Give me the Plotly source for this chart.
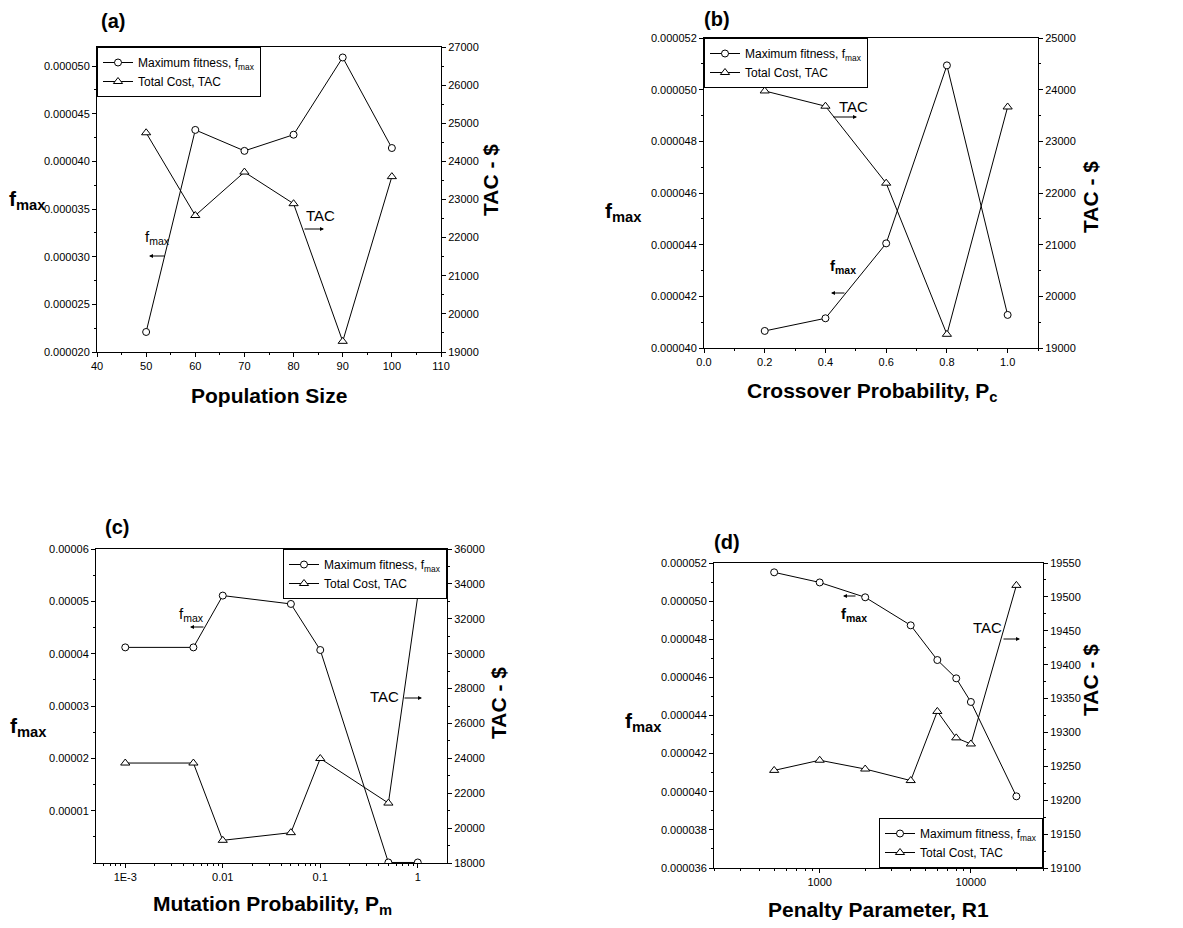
import plotly.graph_objects as go

W, H = 1183, 928
OFF = 8  # page body margin
FW, FH = W - 2 * OFF, H - 2 * OFF

# ---------------- data ----------------
pop_size = [50, 60, 70, 80, 90, 100]
pop_fmax = [0.0000221, 0.0000433, 0.0000411, 0.0000428, 0.0000509, 0.0000414]
pop_tac = [24750, 22580, 23720, 22890, 19280, 23600]

pc = [0.2, 0.4, 0.6, 0.8, 1.0]
pc_fmax = [0.00004066, 0.00004115, 0.00004405, 0.00005094, 0.00004128]
pc_tac = [23975, 23680, 22190, 19265, 23665]

pm = [0.001, 0.005, 0.01, 0.05, 0.1, 0.5, 1.0]
pm_fmax = [0.0000412, 0.0000412, 0.0000511, 0.0000495, 0.0000407, 0.0000001, 0.0000001]
pm_tac = [23730, 23730, 19300, 19740, 23990, 21435, 33300]

r1 = [500, 1000, 2000, 4000, 6000, 8000, 10000, 20000]
r1_fmax = [0.00005151, 0.00005098, 0.0000502, 0.00004873, 0.00004691, 0.00004595, 0.00004471, 0.00003976]
r1_tac = [19244, 19259, 19246, 19229, 19331, 19292, 19283, 19517]

FONT = "Arial, Liberation Sans, sans-serif"

def px(x):
    return (x - OFF) / FW

def py(y):
    return 1 - (y - OFF) / FH

# panel plot boxes in screen pixels: (left, top, right, bottom)
boxes = [(97, 47, 441, 352), (704, 38, 1038, 348), (96, 549, 447, 863), (714, 563, 1043, 868)]

fig = go.Figure()

circle = dict(symbol="circle", size=7, color="white", line=dict(color="black", width=1))
tri = dict(symbol="triangle-up", size=8, color="white", line=dict(color="black", width=1))

data = [(pop_size, pop_fmax, pop_tac), (pc, pc_fmax, pc_tac), (pm, pm_fmax, pm_tac), (r1, r1_fmax, r1_tac)]
legend_names = ["legend", "legend2", "legend3", "legend4"]
for i, (xv, fv, tv) in enumerate(data):
    n = i + 1
    xa = "x" if n == 1 else f"x{n}"
    yl = 2 * n - 1
    yr = 2 * n
    yla = "y" if yl == 1 else f"y{yl}"
    yra = f"y{yr}"
    fig.add_trace(go.Scatter(x=xv, y=fv, mode="lines+markers", name="Maximum fitness, f<sub>max</sub>",
                             line=dict(color="black", width=1), marker=circle,
                             xaxis=xa, yaxis=yla, legend=legend_names[i]))
    fig.add_trace(go.Scatter(x=xv, y=tv, mode="lines+markers", name="Total Cost, TAC",
                             line=dict(color="black", width=1), marker=tri,
                             xaxis=xa, yaxis=yra, legend=legend_names[i]))

tickfont = dict(family=FONT, size=11, color="black")

def axis_common():
    return dict(showline=True, linecolor="black", linewidth=1, ticks="outside", ticklen=4,
                tickcolor="black", tickwidth=1, showgrid=False, zeroline=False, tickfont=tickfont,
                automargin=False)

x_specs = [
    dict(type="linear", range=[40, 110], dtick=10, tick0=40, minor=dict(dtick=5, ticks="outside", ticklen=2, tickcolor="black")),
    dict(type="linear", range=[0, 1.1], dtick=0.2, tick0=0, tickformat=".1f", minor=dict(dtick=0.1, ticks="outside", ticklen=2, tickcolor="black")),
    dict(type="log", range=[-3.3, 0.3], tickvals=[0.001, 0.01, 0.1, 1], ticktext=["1E-3", "0.01", "0.1", "1"],
         minor=dict(ticks="outside", ticklen=2, tickcolor="black", tickvals=[k * 10 ** e for e in [-4, -3, -2, -1, 0] for k in range(2, 10)])),
    dict(type="log", range=[2.301, 4.477], tickvals=[1000, 10000], ticktext=["1000", "10000"],
         minor=dict(ticks="outside", ticklen=2, tickcolor="black", tickvals=[k * 10 ** e for e in [2, 3, 4] for k in range(2, 10)])),
]
yl_specs = [
    dict(range=[0.00002, 0.000052], dtick=0.000005, tick0=0.00002, tickformat=".6f", minor=dict(dtick=0.0000025, ticks="outside", ticklen=2, tickcolor="black")),
    dict(range=[0.00004, 0.000052], dtick=0.000002, tick0=0.00004, tickformat=".6f", minor=dict(dtick=0.000001, ticks="outside", ticklen=2, tickcolor="black")),
    dict(range=[0, 0.00006], tickvals=[0.00001, 0.00002, 0.00003, 0.00004, 0.00005, 0.00006], tickformat=".5f", minor=dict(dtick=0.000005, ticks="outside", ticklen=2, tickcolor="black")),
    dict(range=[0.000036, 0.000052], dtick=0.000002, tick0=0.000036, tickformat=".6f", minor=dict(dtick=0.000001, ticks="outside", ticklen=2, tickcolor="black")),
]
yr_specs = [
    dict(range=[19000, 27000], dtick=1000, tickformat="d", minor=dict(dtick=500, ticks="outside", ticklen=2, tickcolor="black")),
    dict(range=[19000, 25000], dtick=1000, tickformat="d", minor=dict(dtick=500, ticks="outside", ticklen=2, tickcolor="black")),
    dict(range=[18000, 36000], dtick=2000, tickformat="d", minor=dict(dtick=1000, ticks="outside", ticklen=2, tickcolor="black")),
    dict(range=[19100, 19550], dtick=50, tickformat="d", minor=dict(dtick=25, ticks="outside", ticklen=2, tickcolor="black")),
]

layout = {}
for i, (l, t, r, b) in enumerate(boxes):
    n = i + 1
    xk = "xaxis" if n == 1 else f"xaxis{n}"
    ylk = "yaxis" if 2 * n - 1 == 1 else f"yaxis{2 * n - 1}"
    yrk = f"yaxis{2 * n}"
    yla = "y" if n == 1 else f"y{2 * n - 1}"
    xa = "x" if n == 1 else f"x{n}"
    xd = axis_common()
    xd.update(x_specs[i])
    xd.update(domain=[px(l), px(r)], anchor=yla, mirror=True)
    layout[xk] = xd
    yd = axis_common()
    yd.update(yl_specs[i])
    yd.update(domain=[py(b), py(t)], anchor=xa, side="left")
    layout[ylk] = yd
    yr = axis_common()
    yr.update(yr_specs[i])
    yr.update(overlaying=yla, anchor=xa, side="right")
    layout[yrk] = yr

legfont = dict(family=FONT, size=12, color="black")
leg_common = dict(bgcolor="white", bordercolor="black", borderwidth=1, font=legfont,
                  tracegroupgap=0, itemwidth=30)
layout["legend"] = dict(leg_common, x=px(97), y=py(47), xanchor="left", yanchor="top")
layout["legend2"] = dict(leg_common, x=px(704), y=py(38), xanchor="left", yanchor="top")
layout["legend3"] = dict(leg_common, x=px(447), y=py(549), xanchor="right", yanchor="top")
layout["legend4"] = dict(leg_common, x=px(1043), y=py(868), xanchor="right", yanchor="bottom")

ann = []

def text(x, y, s, size, bold=False, angle=0):
    ann.append(dict(x=px(x), y=py(y), xref="paper", yref="paper", text=(f"<b>{s}</b>" if bold else s),
                    showarrow=False, textangle=angle, font=dict(family=FONT, size=size, color="black"),
                    xanchor="center", yanchor="middle"))

def arrow(x0, x1, y):
    ann.append(dict(x=px(x1), y=py(y), xref="paper", yref="paper", ax=x0 - x1, ay=0,
                    axref="pixel", ayref="pixel", text="", showarrow=True, arrowhead=2,
                    arrowsize=0.8, arrowwidth=1, arrowcolor="black"))

text(113, 21, "(a)", 20, bold=True)
text(717, 19, "(b)", 20, bold=True)
text(117, 527, "(c)", 20, bold=True)
text(727, 542, "(d)", 20, bold=True)

text(269, 395, "Population Size", 21, bold=True)
text(872, 392, "Crossover Probability, P<sub>c</sub>", 21, bold=True)
text(272, 905, "Mutation Probability, P<sub>m</sub>", 21, bold=True)
text(878, 909, "Penalty Parameter, R1", 21, bold=True)

text(27, 200, "f<sub>max</sub>", 21, bold=True)
text(623, 212, "f<sub>max</sub>", 21, bold=True)
text(28, 727, "f<sub>max</sub>", 21, bold=True)
text(643, 722, "f<sub>max</sub>", 21, bold=True)

text(490, 180, "TAC - $", 21, bold=True, angle=-90)
text(1090, 197, "TAC - $", 21, bold=True, angle=-90)
text(498, 703, "TAC - $", 21, bold=True, angle=-90)
text(1090, 680, "TAC - $", 21, bold=True, angle=-90)

text(157, 237, "f<sub>max</sub>", 15)
arrow(166, 149, 256)
text(320, 215, "TAC", 15)
arrow(303, 324, 229)

text(853, 107, "TAC", 15)
arrow(832, 857, 117)
text(843, 266, "f<sub>max</sub>", 15, bold=True)
arrow(846, 831, 293)

text(191, 614, "f<sub>max</sub>", 15)
arrow(205, 190, 627)
text(384, 696, "TAC", 15)
arrow(403, 422, 698)

text(854, 614, "f<sub>max</sub>", 15, bold=True)
arrow(857, 843, 596)
text(987, 627, "TAC", 15)
arrow(1002, 1020, 639)

layout["annotations"] = ann
fig.update_layout(**layout)
fig.update_layout(width=FW, height=FH, margin=dict(l=0, r=0, t=0, b=0, pad=0, autoexpand=False),
                  plot_bgcolor="white", paper_bgcolor="white", showlegend=True,
                  font=dict(family=FONT, color="black"))

fig.write_html("out.html")
